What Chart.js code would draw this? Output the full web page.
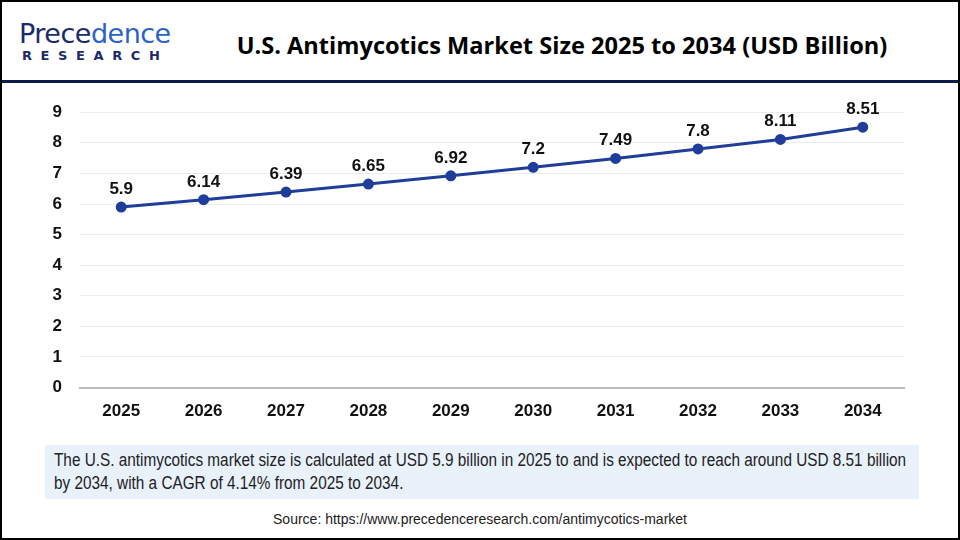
<!DOCTYPE html>
<html lang="en">
<head>
<meta charset="UTF-8">
<title>U.S. Antimycotics Market Size</title>
<script src="https://cdn.jsdelivr.net/npm/chart.js"></script>
<style>
  html, body { margin: 0; padding: 0; background: #fff; }
  .frame { position: relative; width: 956px; height: 536px; border: 2px solid #000; overflow: hidden; font-family: 'Liberation Sans', Arial, sans-serif; }
  .logo { position: absolute; left: 17px; top: 18px; }
  .logo .p { font-family: 'DejaVu Sans', sans-serif; font-size: 27px; color: #1a2a6c; line-height: 28px; letter-spacing: -0.5px; }
  .logo .p span { color: #2a63c9; }
  .logo .r { font-family: 'DejaVu Sans', sans-serif; font-weight: bold; font-size: 13px; color: #1a2a6c; letter-spacing: 8.6px; line-height: 16px; margin-left: 3px; }
  .title { position: absolute; left: 200px; width: 720px; top: 27px; text-align: center; font-family: 'Open Sans', sans-serif; font-weight: bold; font-size: 23.6px; color: #000; }
  .divider { position: absolute; left: 0; top: 78px; width: 100%; height: 3px; background: #0d1b4a; }
  .chartbox { position: absolute; left: 44px; top: 82px; width: 880px; height: 352px; }
  .note { position: absolute; left: 43px; top: 443px; width: 874px; height: 54px; background: #e9f1fb; }
  .note div { position: absolute; left: 9px; top: 4px; white-space: nowrap; transform: scaleX(0.876); transform-origin: left top; font-size: 17.5px; line-height: 23px; color: #222; }
  .source { position: absolute; left: 0; width: 100%; top: 509px; text-align: center; font-size: 14px; color: #222; }
</style>
</head>
<body>
<div class="frame">
  <div class="logo">
    <div class="p">Prece<span>dence</span></div>
    <div class="r">RESEARCH</div>
  </div>
  <div class="title">U.S. Antimycotics Market Size 2025 to 2034 (USD Billion)</div>
  <div class="divider"></div>
  <div class="chartbox"><canvas id="marketChart"></canvas></div>
  <div class="note"><div>The U.S. antimycotics market size is calculated at USD 5.9 billion in 2025 to and is expected to reach around USD 8.51 billion<br>by 2034, with a CAGR of 4.14% from 2025 to 2034.</div></div>
  <div class="source">Source: https://www.precedenceresearch.com/antimycotics-market</div>
</div>
<script>
  const years = ['2025', '2026', '2027', '2028', '2029', '2030', '2031', '2032', '2033', '2034'];
  const marketSize = [5.9, 6.14, 6.39, 6.65, 6.92, 7.2, 7.49, 7.8, 8.11, 8.51];
  const yTicks = [0, 1, 2, 3, 4, 5, 6, 7, 8, 9];

  // value labels above each point
  const pointLabels = {
    id: 'pointLabels',
    afterDatasetsDraw(chart) {
      const ctx = chart.ctx;
      const meta = chart.getDatasetMeta(0);
      ctx.save();
      ctx.font = 'bold 17px "Liberation Sans", Arial, sans-serif';
      ctx.fillStyle = '#111';
      ctx.textAlign = 'center';
      ctx.textBaseline = 'alphabetic';
      meta.data.forEach((pt, i) => {
        ctx.fillText(String(marketSize[i]), pt.x, pt.y - 13);
      });
      ctx.restore();
    }
  };

  const tickFont = { size: 17, weight: 'bold', family: '"Liberation Sans", Arial, sans-serif' };

  new Chart(document.getElementById('marketChart'), {
    type: 'line',
    data: {
      labels: years,
      datasets: [{
        data: marketSize,
        borderColor: '#1f3d99',
        backgroundColor: '#1f3d99',
        borderWidth: 3,
        pointRadius: 4,
        pointHoverRadius: 4,
        tension: 0
      }]
    },
    options: {
      responsive: true,
      maintainAspectRatio: false,
      animation: false,
      layout: { padding: { top: 22, right: 22, left: 0, bottom: 0 } },
      plugins: { legend: { display: false }, tooltip: { enabled: false } },
      scales: {
        x: {
          offset: true,
          grid: { display: false, drawTicks: false },
          border: { color: '#bbb', width: 2 },
          ticks: { color: '#111', padding: 14, font: tickFont }
        },
        y: {
          min: 0,
          max: 9,
          afterBuildTicks(axis) { axis.ticks = yTicks.map(v => ({ value: v })); },
          afterFit(axis) { axis.width = 34; },
          grid: { color: '#ececec', drawTicks: false },
          border: { display: false },
          ticks: { color: '#111', padding: 18, font: tickFont }
        }
      }
    },
    plugins: [pointLabels]
  });
</script>
</body>
</html>
